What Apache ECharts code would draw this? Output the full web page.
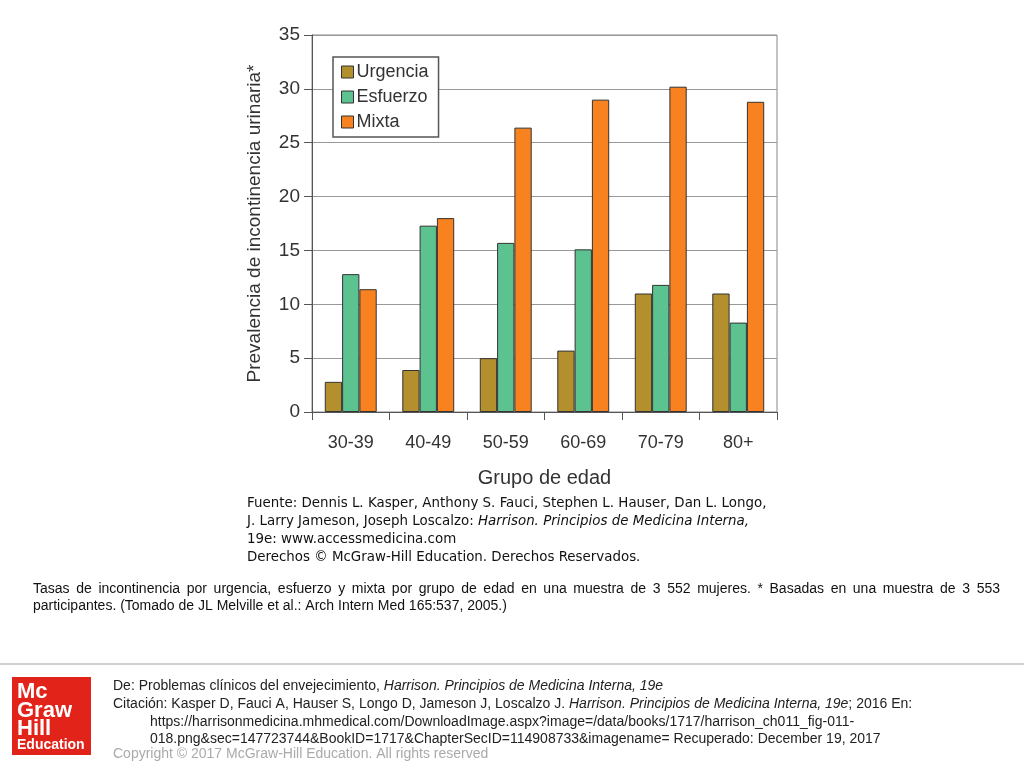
<!DOCTYPE html>
<html>
<head>
<meta charset="utf-8">
<script src="https://cdn.jsdelivr.net/npm/echarts@6/dist/echarts.min.js"></script>
<style>
html,body{margin:0;padding:0;background:#fff;}
#chart{width:1024px;height:768px;}
</style>
</head>
<body>
<div id="chart"></div>
<script>
const categories = ['30-39', '40-49', '50-59', '60-69', '70-79', '80+'];
const urgencia = [2.8, 3.9, 5.0, 5.7, 11.0, 11.0];
const esfuerzo = [12.8, 17.3, 15.7, 15.1, 11.8, 8.3];
const mixta = [11.4, 18.0, 26.4, 29.0, 30.2, 28.8];
const seriesNames = ['Urgencia', 'Esfuerzo', 'Mixta'];
const yTicks = [0, 5, 10, 15, 20, 25, 30, 35];

const colors = ['#b38f2e', '#5cc28f', '#f7821f'];
const F = '"Liberation Sans", Arial, sans-serif';

const chart = echarts.init(document.getElementById('chart'));
const barStyle = c => ({ color: c, borderColor: '#333', borderWidth: 1 });

const sourceLines = [
  [{t: 'Fuente: Dennis L. Kasper, Anthony S. Fauci, Stephen L. Hauser, Dan L. Longo,', i: false}],
  [{t: 'J. Larry Jameson, Joseph Loscalzo: ', i: false}, {t: 'Harrison. Principios de Medicina Interna,', i: true}],
  [{t: '19e: www.accessmedicina.com', i: false}],
  [{t: 'Derechos \u00a9 McGraw-Hill Education. Derechos Reservados.', i: false}]
];

const graphics = [];
const SF = '"DejaVu Sans", Verdana, sans-serif';
sourceLines.forEach((parts, li) => {
  const rich = {n: {fontFamily: SF, fontSize: 13.4, fill: '#111'}, it: {fontFamily: SF, fontSize: 13.4, fontStyle: 'italic', fill: '#111'}};
  const txt = parts.map(p => (p.i ? '{it|' : '{n|') + p.t + '}').join('');
  graphics.push({type: 'text', left: 247, top: 497 + li * 18, style: {text: txt, rich: rich}});
});

// caption (first line justified)
const CF = '14px "Liberation Sans", Arial, sans-serif';
const caption1 = 'Tasas de incontinencia por urgencia, esfuerzo y mixta por grupo de edad en una muestra de 3 552 mujeres. * Basadas en una muestra de 3 553';
const caption2 = 'participantes. (Tomado de JL Melville et al.: Arch Intern Med 165:537, 2005.)';
(function () {
  const ctx = document.createElement('canvas').getContext('2d');
  ctx.font = CF;
  const words = caption1.split(' ');
  const total = words.reduce((s, w) => s + ctx.measureText(w).width, 0);
  const x0 = 33, x1 = 1000;
  const gap = (x1 - x0 - total) / (words.length - 1);
  let x = x0;
  words.forEach(w => {
    graphics.push({type: 'text', left: x, top: 582, style: {text: w, font: CF, fill: '#111'}});
    x += ctx.measureText(w).width + gap;
  });
})();
graphics.push({type: 'text', left: 33, top: 599, style: {text: caption2, font: CF, fill: '#111'}});

// divider
graphics.push({type: 'rect', left: 0, top: 663, shape: {width: 1024, height: 2}, style: {fill: '#cfcfcf'}});
// logo
graphics.push({type: 'rect', left: 12, top: 677, shape: {width: 79, height: 78}, style: {fill: '#e2231a'}});
['Mc', 'Graw', 'Hill'].forEach((w, k) => {
  graphics.push({type: 'text', left: 17, top: 681 + k * 18.5, style: {text: w, font: 'bold 22px "Liberation Sans", Arial, sans-serif', fill: '#fff'}});
});
graphics.push({type: 'text', left: 17, top: 738, style: {text: 'Education', font: 'bold 14px "Liberation Sans", Arial, sans-serif', fill: '#fff'}});
// footer text
const FF = '"Liberation Sans", Arial, sans-serif';
const richF = {n: {fontFamily: FF, fontSize: 14, fill: '#222'}, it: {fontFamily: FF, fontSize: 14, fontStyle: 'italic', fill: '#222'}};
graphics.push({type: 'text', left: 113, top: 679, style: {text: '{n|De: Problemas cl\u00ednicos del envejecimiento, }{it|Harrison. Principios de Medicina Interna, 19e}', rich: richF}});
graphics.push({type: 'text', left: 113, top: 697, style: {text: '{n|Citaci\u00f3n: Kasper D, Fauci A, Hauser S, Longo D, Jameson J, Loscalzo J. }{it|Harrison. Principios de Medicina Interna, 19e}{n|; 2016 En:}', rich: richF}});
graphics.push({type: 'text', left: 150, top: 715, style: {text: 'https://harrisonmedicina.mhmedical.com/DownloadImage.aspx?image=/data/books/1717/harrison_ch011_fig-011-', font: '14px ' + FF, fill: '#222'}});
graphics.push({type: 'text', left: 150, top: 732, style: {text: '018.png&sec=147723744&BookID=1717&ChapterSecID=114908733&imagename= Recuperado: December 19, 2017', font: '14px ' + FF, fill: '#222'}});
graphics.push({type: 'text', left: 113, top: 747, style: {text: 'Copyright \u00a9 2017 McGraw-Hill Education. All rights reserved', font: '14px ' + FF, fill: '#aaa'}});

chart.setOption({
  animation: false,
  backgroundColor: '#fff',
  textStyle: {fontFamily: F},
  grid: {left: 312, top: 35, width: 465, height: 377, show: true, borderColor: '#888', borderWidth: 1},
  legend: {
    orient: 'vertical', left: 333, top: 57, itemWidth: 12, itemHeight: 12, itemGap: 7, icon: 'rect',
    padding: [6, 10, 6, 8], borderColor: '#555', borderWidth: 1.5, backgroundColor: '#fff',
    textStyle: {fontSize: 18, color: '#333', fontFamily: F, padding: [0, 0, 0, -2]},
    data: seriesNames.map(n => ({name: n, itemStyle: {borderColor: '#333', borderWidth: 1}}))
  },
  xAxis: {
    type: 'category', data: categories,
    name: 'Grupo de edad', nameLocation: 'middle', nameGap: 56,
    nameTextStyle: {fontSize: 20, color: '#333', fontFamily: F},
    axisLine: {lineStyle: {color: '#555', width: 1}},
    axisTick: {show: true, length: 8, lineStyle: {color: '#555'}},
    axisLabel: {fontSize: 18, color: '#333', margin: 22, fontFamily: F}
  },
  yAxis: {
    type: 'value', min: 0, max: 35, interval: 5,
    name: 'Prevalencia de incontinencia urinaria*', nameLocation: 'middle', nameGap: 48,
    nameTextStyle: {fontSize: 19, color: '#333', fontFamily: F},
    axisLine: {show: true, lineStyle: {color: '#555', width: 1}},
    axisTick: {show: true, length: 8, lineStyle: {color: '#555'}},
    axisLabel: {fontSize: 19, color: '#333', margin: 12, fontFamily: F,
      formatter: v => yTicks.includes(v) ? String(v) : ''},
    splitLine: {lineStyle: {color: '#999', width: 1}}
  },
  series: [
    {name: seriesNames[0], type: 'bar', data: urgencia, itemStyle: barStyle(colors[0]), barGap: '0%', barCategoryGap: '33%'},
    {name: seriesNames[1], type: 'bar', data: esfuerzo, itemStyle: barStyle(colors[1]), barGap: '0%', barCategoryGap: '33%'},
    {name: seriesNames[2], type: 'bar', data: mixta, itemStyle: barStyle(colors[2]), barGap: '0%', barCategoryGap: '33%'}
  ],
  color: colors,
  graphic: graphics
});
</script>
</body>
</html>
